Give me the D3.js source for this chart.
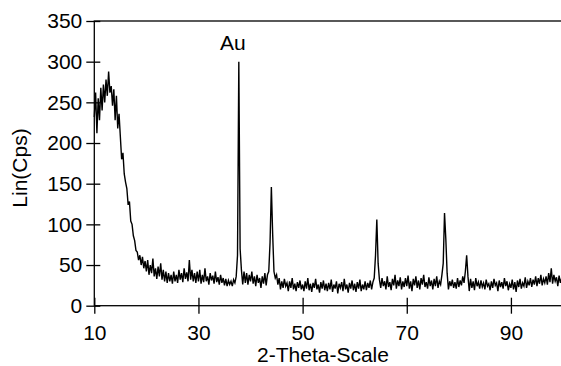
<!DOCTYPE html>
<html>
<head>
<meta charset="utf-8">
<script src="https://cdn.jsdelivr.net/npm/d3@7"></script>
<style>
  body { margin: 0; background: #fff; }
  svg { display: block; }
  text { font-family: "Liberation Sans", Arial, Helvetica, sans-serif; fill: #000; }
</style>
</head>
<body>
<svg id="chart" width="561" height="366"></svg>
<script>
// XRD pattern, counts sampled every 0.25 degrees from 10 to 100
const angleStart = 10;
const angleStep = 0.25;
const counts = [
  232, 262, 212, 255, 228, 268, 240, 272, 250, 278, 258, 288, 262, 270, 246, 266, 228, 258, 218, 236,
  208, 180, 188, 162, 152, 144, 124, 128, 104, 100, 86, 80, 68, 66, 56, 62, 50, 60, 46, 55,
  42, 56, 38, 50, 40, 58, 36, 46, 33, 48, 36, 52, 32, 44, 30, 42, 28, 40, 30, 38,
  27, 42, 30, 38, 28, 44, 32, 40, 29, 46, 33, 41, 30, 56, 32, 44, 30, 40, 28, 42,
  30, 44, 27, 38, 29, 46, 30, 36, 26, 40, 31, 37, 27, 42, 29, 35, 26, 38, 28, 34,
  25, 33, 24, 31, 26, 30, 24, 32, 28, 36, 62, 300, 70, 44, 26, 42, 28, 40, 26, 38,
  30, 42, 27, 36, 24, 38, 28, 34, 22, 36, 27, 40, 25, 38, 42, 78, 146, 88, 42, 34,
  38, 26, 34, 20, 30, 22, 33, 24, 28, 18, 30, 22, 34, 20, 27, 18, 29, 22, 31, 20,
  26, 18, 30, 21, 34, 19, 27, 17, 28, 22, 33, 20, 26, 16, 29, 21, 31, 19, 27, 18,
  28, 20, 32, 17, 26, 21, 30, 15, 27, 22, 29, 18, 33, 20, 26, 16, 28, 21, 31, 19,
  27, 17, 29, 21, 32, 18, 26, 20, 30, 19, 28, 22, 31, 20, 29, 34, 62, 106, 52, 32,
  22, 34, 24, 30, 20, 36, 23, 29, 19, 33, 25, 38, 21, 31, 24, 35, 20, 30, 23, 34,
  24, 37, 21, 30, 18, 33, 25, 36, 22, 31, 20, 34, 26, 38, 23, 29, 21, 35, 24, 31,
  20, 33, 24, 36, 22, 30, 26, 38, 52, 114, 82, 40, 20, 30, 24, 32, 22, 29, 21, 34,
  23, 31, 25, 36, 28, 42, 62, 36, 18, 33, 22, 30, 19, 34, 24, 29, 21, 31, 23, 28,
  20, 32, 24, 27, 19, 30, 22, 33, 25, 28, 18, 31, 23, 29, 21, 34, 24, 30, 19, 27,
  22, 32, 20, 29, 17, 31, 23, 33, 21, 28, 24, 35, 22, 30, 25, 34, 23, 32, 26, 36,
  24, 34, 27, 38, 25, 33, 28, 36, 26, 40, 29, 46, 27, 38, 30, 35, 24, 37, 28, 34,
  30
];
const xTicks = [10, 30, 50, 70, 90];
const yTicks = [0, 50, 100, 150, 200, 250, 300, 350];
const peakLabel = { text: 'Au', angle: 37.75 };

const svg = d3.select('#chart');
const margin = { left: 94.3, right: 563, top: 21, bottom: 305.7 };

const x = d3.scaleLinear().domain([10, 100]).range([margin.left, margin.right]);
const y = d3.scaleLinear().domain([0, 350]).range([margin.bottom, margin.top]);

const data = counts.map((c, i) => ({ angle: angleStart + i * angleStep, count: c }));

// frame
svg.append('rect')
  .attr('x', margin.left).attr('y', margin.top)
  .attr('width', margin.right - margin.left).attr('height', margin.bottom - margin.top)
  .attr('fill', 'none').attr('stroke', '#000').attr('stroke-width', 1.3);

// pattern
svg.append('path')
  .datum(data)
  .attr('fill', 'none')
  .attr('stroke', '#000')
  .attr('stroke-width', 1.4)
  .attr('d', d3.line().x(d => x(d.angle)).y(d => y(d.count)));

// axes
const gx = svg.append('g')
  .attr('transform', 'translate(0,' + margin.bottom + ')')
  .call(d3.axisBottom(x).tickValues(xTicks).tickSizeInner(8).tickSizeOuter(0).tickPadding(11));
gx.select('.domain').remove();
gx.selectAll('.tick').append('line').attr('y2', -8).attr('stroke', '#000');

const gy = svg.append('g')
  .attr('transform', 'translate(' + margin.left + ',0)')
  .call(d3.axisLeft(y).tickValues(yTicks).tickSizeInner(8).tickSizeOuter(0).tickPadding(4));
gy.select('.domain').remove();
gy.selectAll('.tick').append('line').attr('x2', 6).attr('stroke', '#000');

svg.selectAll('.tick line').attr('stroke-width', 1.3);
svg.selectAll('.tick text').attr('font-size', 21).attr('font-family', null);

// titles
svg.append('text')
  .attr('x', 323).attr('y', 362)
  .attr('text-anchor', 'middle').attr('font-size', 21)
  .text('2-Theta-Scale');

svg.append('text')
  .attr('transform', 'translate(27,168) rotate(-90)')
  .attr('text-anchor', 'middle').attr('font-size', 21)
  .text('Lin(Cps)');

svg.append('text')
  .attr('x', x(peakLabel.angle) - 6).attr('y', 50)
  .attr('text-anchor', 'middle').attr('font-size', 21)
  .text(peakLabel.text);
</script>
</body>
</html>
